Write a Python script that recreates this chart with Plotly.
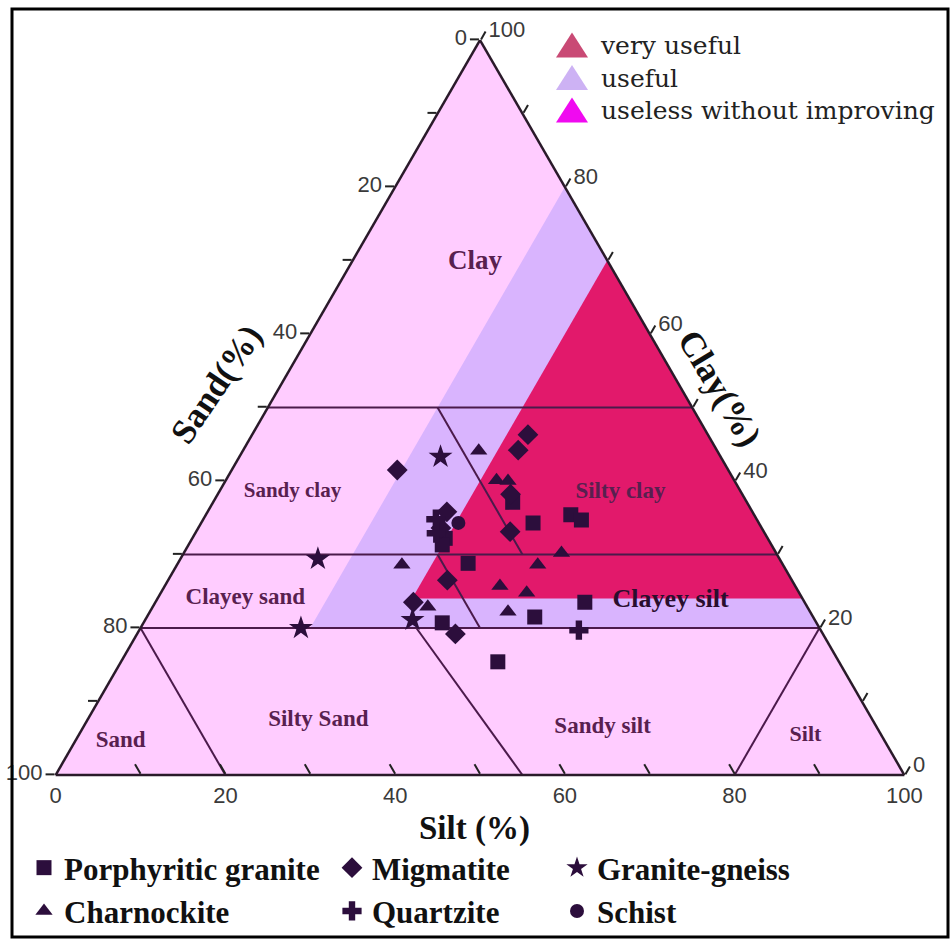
import plotly.graph_objects as go

# ---------------- Axis ticks (same list for the three sides) ----------------
tick_positions = [0, 10, 20, 30, 40, 50, 60, 70, 80, 90, 100]
tick_labels = ["100", "", "80", "", "60", "", "40", "", "20", "", "0"]

# ---------------- Suitability zones (clay, sand, silt in %) ----------------
useful_clay = [80, 20, 20]
useful_sand = [0, 60, 0]
useful_silt = [20, 20, 80]

very_useful_clay = [70, 24, 24]
very_useful_sand = [0, 46, 0]
very_useful_silt = [30, 30, 76]

zone_names = ["very useful", "useful", "useless without improving"]

# ---------------- Textural class boundaries (segments separated by None) ----------------
bound_clay = [50, 50, None, 30, 30, None, 20, 20, None, 50, 30, None, 30, 20, None,
              20, 0, None, 20, 0, None, 20, 0]
bound_sand = [50, 0, None, 70, 0, None, 80, 0, None, 30, 30, None, 40, 40, None,
              80, 80, None, 47.5, 45, None, 0, 20]
bound_silt = [0, 50, None, 0, 70, None, 0, 80, None, 20, 40, None, 30, 40, None,
              0, 20, None, 32.5, 55, None, 80, 80]

# ---------------- Textural class names ----------------
class_names = ["Clay", "Sandy clay", "Silty clay", "Clayey sand", "Clayey silt",
               "Silty Sand", "Sandy silt", "Sand", "Silt"]
class_clay = [69.8, 38.6, 38.5, 24.1, 23.7, 7.5, 6.5, 4.6, 5.4]
class_sand = [15.7, 52.8, 14.2, 65.6, 15.7, 65.3, 32.3, 90.05, 8.95]
class_silt = [14.5, 8.6, 47.3, 10.3, 60.6, 27.2, 61.2, 5.35, 85.65]

# ---------------- Samples (clay, sand, silt in %) ----------------
porph_clay = [37.1, 34.3, 35.4, 34.7, 28.8, 23.5, 21.5, 20.7, 15.4, 32.2, 31.3]
porph_silt = [35.3, 39.1, 43.0, 44.6, 34.2, 50.6, 45.7, 35.2, 44.4, 29.8, 29.9]
porph_sand = [27.6, 26.6, 21.6, 20.7, 37.0, 25.9, 32.8, 44.1, 40.2, 38.0, 38.8]

migm_clay = [41.5, 46.3, 44.2, 33.1, 26.5, 23.5, 19.2, 35.8, 33.6, 38.2]
migm_silt = [19.5, 32.5, 32.4, 37.0, 32.9, 30.4, 37.5, 28.2, 28.6, 34.5]
migm_sand = [39.0, 21.2, 23.4, 29.9, 40.6, 46.1, 43.3, 36.0, 37.8, 27.3]

gneiss_clay = [43.3, 29.4, 20.0, 21.1]
gneiss_silt = [23.7, 16.2, 18.9, 31.5]
gneiss_sand = [33.0, 54.4, 61.1, 47.4]

charn_clay = [44.1, 40.1, 40.0, 28.6, 28.6, 30.2, 25.7, 24.8, 22.9, 22.2]
charn_silt = [27.8, 31.9, 33.3, 26.5, 42.5, 44.5, 39.5, 43.1, 32.4, 42.2]
charn_sand = [28.1, 28.0, 26.7, 44.9, 28.9, 25.3, 34.8, 32.1, 44.7, 35.6]

quartz_clay = [19.7, 34.8, 32.9]
quartz_silt = [51.8, 27.4, 28.4]
quartz_sand = [28.5, 37.8, 38.7]

schist_clay = [34.3]
schist_silt = [30.3]
schist_sand = [35.4]

# ---------------- Styles ----------------
PINK = "#FFCCFF"
LAVENDER = "#D9B4FE"
CRIMSON = "#E2196B"
LINE = "#4B1A4B"
MARK = "#2C0E3C"
SERIF = "Liberation Serif"
SANS = "Liberation Sans"
W, H = 952, 941

fig = go.Figure()

fig.add_trace(go.Scatterternary(
    a=useful_clay, b=useful_sand, c=useful_silt, mode="lines", fill="toself",
    fillcolor=LAVENDER, line=dict(width=0, color=LAVENDER),
    hoverinfo="skip", showlegend=False, name="useful"))
fig.add_trace(go.Scatterternary(
    a=very_useful_clay, b=very_useful_sand, c=very_useful_silt, mode="lines", fill="toself",
    fillcolor=CRIMSON, line=dict(width=0, color=CRIMSON),
    hoverinfo="skip", showlegend=False, name="very useful"))
fig.add_trace(go.Scatterternary(
    a=bound_clay, b=bound_sand, c=bound_silt, mode="lines",
    line=dict(color=LINE, width=2), hoverinfo="skip", showlegend=False))

label_sizes = [27, 21, 23, 23, 26, 23, 23, 23, 22]
label_colors = ["#58204F"] * 4 + ["#2A0E2E"] + ["#58204F"] * 4
fig.add_trace(go.Scatterternary(
    a=class_clay, b=class_sand, c=class_silt, mode="text", text=class_names,
    textposition="middle center",
    textfont=dict(family=SERIF, size=label_sizes, color=label_colors, weight="bold"),
    hoverinfo="skip", showlegend=False))

samples = [
    ("Porphyritic granite", porph_clay, porph_sand, porph_silt, "square", 15, "legend2"),
    ("Migmatite", migm_clay, migm_sand, migm_silt, "diamond", 16, "legend3"),
    ("Granite-gneiss", gneiss_clay, gneiss_sand, gneiss_silt, "star", 18, "legend4"),
    ("Charnockite", charn_clay, charn_sand, charn_silt, "triangle-up", 15, "legend2"),
    ("Quartzite", quartz_clay, quartz_sand, quartz_silt, "cross", 16, "legend3"),
    ("Schist", schist_clay, schist_sand, schist_silt, "circle", 14, "legend4"),
]
for name, ca, sa, si, sym, size, leg in samples:
    fig.add_trace(go.Scatterternary(
        a=ca, b=sa, c=si, mode="markers", name=name, legend=leg,
        marker=dict(symbol=sym, size=size, color=MARK, line=dict(width=0))))

axis_style = dict(
    tickmode="array", tickvals=tick_positions, ticktext=tick_labels,
    ticks="outside", ticklen=9, tickwidth=1.5, tickcolor="#222",
    tickfont=dict(family=SANS, size=22, color="#3a3a3a"),
    showgrid=False, showline=True, linecolor="#2a1a2a", linewidth=2.5,
    title=dict(text=""))
bottom_axis_style = dict(axis_style, ticks="inside", ticklen=11)

legend_style = dict(
    orientation="v", xanchor="left", yanchor="top", bgcolor="rgba(0,0,0,0)",
    borderwidth=0, font=dict(family=SERIF, size=31, color="#111", weight="bold"),
    itemclick=False, itemdoubleclick=False)

fig.update_layout(
    width=W, height=H, margin=dict(l=0, r=0, t=0, b=0),
    paper_bgcolor="white", showlegend=True,
    ternary=dict(
        sum=100, bgcolor=PINK,
        domain=dict(x=[55 / W, 905 / W], y=[(H - 775) / H, (H - 40) / H]),
        aaxis=axis_style, baxis=bottom_axis_style, caxis=axis_style),
    legend2=dict(legend_style, x=24 / W, y=(H - 841) / H),
    legend3=dict(legend_style, x=332 / W, y=(H - 841) / H),
    legend4=dict(legend_style, x=557 / W, y=(H - 841) / H),
)

# Axis titles
fig.add_annotation(text="Sand(%)", x=216 / W, y=(H - 384) / H, xref="paper", yref="paper",
                   showarrow=False, textangle=-56, xanchor="center", yanchor="middle",
                   font=dict(family=SERIF, size=35, color="#111", weight="bold"))
fig.add_annotation(text="Clay(%)", x=720 / W, y=(H - 388) / H, xref="paper", yref="paper",
                   showarrow=False, textangle=59, xanchor="center", yanchor="middle",
                   font=dict(family=SERIF, size=35, color="#111", weight="bold"))
fig.add_annotation(text="Silt (%)", x=474 / W, y=(H - 828) / H, xref="paper", yref="paper",
                   showarrow=False, xanchor="center", yanchor="middle",
                   font=dict(family=SERIF, size=33, color="#111", weight="bold"))

# Zone legend (top right): one multi-line text block + triangle symbols
ZL_SIZE = 25
line_step = ZL_SIZE * 1.3
first_y = 45
zone_symbol_colors = ["#C94A75", "#CDB2F4", "#F00AF0"]
for i, col in enumerate(zone_symbol_colors):
    yc = first_y + line_step * i
    fig.add_shape(type="path", xref="paper", yref="paper",
                  path=(f"M {572 / W},{(H - (yc - 12.5)) / H} "
                        f"L {588 / W},{(H - (yc + 12.5)) / H} "
                        f"L {556 / W},{(H - (yc + 12.5)) / H} Z"),
                  fillcolor=col, line=dict(width=0), layer="above")
fig.add_annotation(text="<br>".join(zone_names), x=598 / W, y=(H - (first_y + line_step)) / H,
                   xref="paper", yref="paper", showarrow=False,
                   xanchor="left", yanchor="middle", align="left",
                   font=dict(family="DejaVu Serif", size=ZL_SIZE, color="#222"))

# Outer frame
fig.add_shape(type="rect", xref="paper", yref="paper",
              x0=12 / W, x1=948 / W, y0=(H - 937) / H, y1=(H - 9) / H,
              line=dict(color="black", width=3), fillcolor="rgba(0,0,0,0)", layer="above")

fig.write_html("out.html", config={"displayModeBar": False},
               post_script="document.body.style.margin='0px';")
